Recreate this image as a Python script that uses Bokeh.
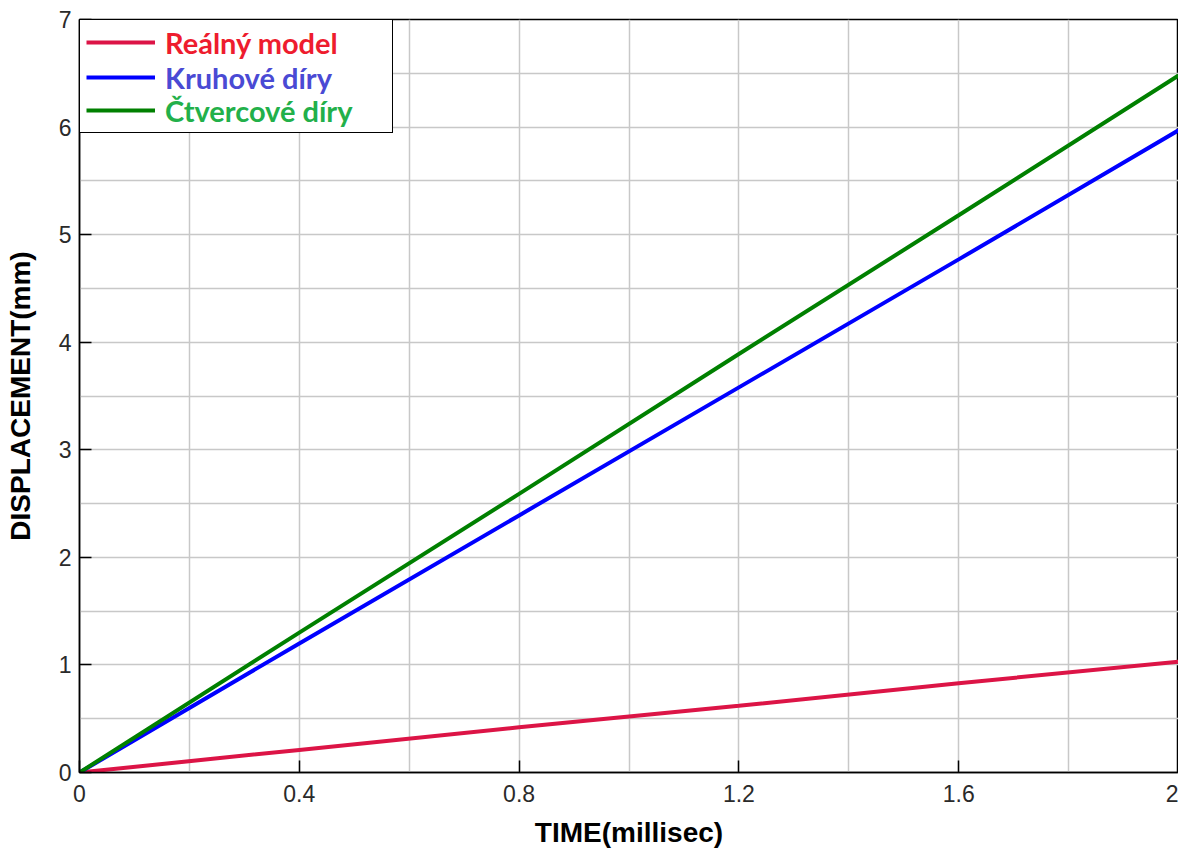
from bokeh.plotting import figure
from bokeh.models import (Range1d, FixedTicker, Legend, LegendItem,
                          CustomJSTickFormatter)
from bokeh.embed import file_html
from bokeh.resources import INLINE

# ---- data ----
time_ms = [0.0, 0.4, 0.8, 1.2, 1.6, 2.0]
realny_model = [0.0, 0.21, 0.42, 0.62, 0.83, 1.03]
kruhove_diry = [0.0, 1.20, 2.39, 3.58, 4.77, 5.97]
ctvercove_diry = [0.0, 1.30, 2.59, 3.89, 5.18, 6.48]

series_names = ["Reálný model", "Kruhové díry", "Čtvercové díry"]
line_colors = ["#dc1446", "#0000ff", "#008000"]
text_colors = ["#ee1c2e", "#4a4ad4", "#22b04a"]

x_ticks = [0, 0.4, 0.8, 1.2, 1.6, 2.0]
x_grid = [0, 0.2, 0.4, 0.6, 0.8, 1.0, 1.2, 1.4, 1.6, 1.8, 2.0]
y_ticks = [0, 1, 2, 3, 4, 5, 6, 7]
y_grid = [0, 0.5, 1, 1.5, 2, 2.5, 3, 3.5, 4, 4.5, 5, 5.5, 6, 6.5, 7]
x_min, x_max = 0, 2
y_min, y_max = 0, 7

W, H = 1178, 850
BL, BR, BT, BB = 79, 0, 19, 75
p = figure(width=W, height=H, output_backend="svg", toolbar_location=None,
           x_range=Range1d(x_min, x_max), y_range=Range1d(y_min, y_max),
           min_border_left=BL, min_border_right=BR, min_border_top=BT,
           min_border_bottom=BB)
p.background_fill_color = "white"
p.border_fill_color = "white"
p.outline_line_color = "black"
p.outline_line_width = 1.5
p.outline_line_alpha = 1

# grid
p.xgrid.ticker = FixedTicker(ticks=x_grid)
p.ygrid.ticker = FixedTicker(ticks=y_grid)
for g in (p.xgrid, p.ygrid):
    g.grid_line_color = "#c8c8c8"
    g.grid_line_width = 1.5
    g.grid_line_alpha = 1

# axes
p.xaxis.ticker = FixedTicker(ticks=x_ticks, minor_ticks=[])
p.yaxis.ticker = FixedTicker(ticks=y_ticks, minor_ticks=[])
p.xaxis.formatter = CustomJSTickFormatter(code="return Number(tick.toFixed(2)).toString();")
p.yaxis.formatter = CustomJSTickFormatter(code="return Number(tick.toFixed(2)).toString();")
for ax in (p.xaxis, p.yaxis):
    ax.axis_line_color = "black"
    ax.axis_line_width = 1.5
    ax.major_tick_in = 12
    ax.major_tick_out = 0
    ax.major_tick_line_color = "black"
    ax.major_tick_line_width = 1.5
    ax.minor_tick_line_color = None
    ax.major_label_text_font = "Liberation Sans"
    ax.major_label_text_font_size = "23px"
    ax.major_label_text_color = "#2a2a2a"
    ax.axis_label_text_font = "Liberation Sans"
    ax.axis_label_text_font_style = "bold"
    ax.axis_label_text_font_size = "28px"
    ax.axis_label_text_color = "black"

p.xaxis.axis_label = "TIME(millisec)"
p.yaxis.axis_label = "DISPLACEMENT(mm)"
p.xaxis.major_label_standoff = 12
p.xaxis.axis_label_standoff = 12
p.yaxis.major_label_standoff = 8
p.yaxis.axis_label_standoff = 20

# lines
renderers = []
for ys, c in zip([realny_model, kruhove_diry, ctvercove_diry], line_colors):
    r = p.line(time_ms, ys, line_color=c, line_width=4)
    renderers.append(r)

# legend box only (zero-width glyphs, no label text): white background + border
items = [LegendItem(label="", renderers=[r]) for r in renderers]
box = Legend(items=items, location="top_left", margin=0, padding=7,
             spacing=4, glyph_width=0, glyph_height=30, label_height=30,
             label_width=288, label_standoff=10,
             label_text_alpha=0, label_text_font_size="14px",
             border_line_color="black", border_line_width=1.5, border_line_alpha=1,
             background_fill_color="white", background_fill_alpha=1)
p.add_layout(box, "center")

# one borderless legend per entry, so each label gets its own colour
frame_h = H - BT - BB
item_centers = [26, 61, 94]
half = 18
for n, r, tc, yc in zip(series_names, renderers, text_colors, item_centers):
    lg = Legend(items=[LegendItem(label=n, renderers=[r])],
                location=(7, frame_h - yc - half), margin=0, padding=0,
                glyph_width=69, glyph_height=2 * half, label_height=2 * half,
                label_standoff=10,
                label_text_color=tc, label_text_font="Lato",
                label_text_font_style="bold", label_text_font_size="29px",
                border_line_color=None, background_fill_alpha=0)
    p.add_layout(lg, "center")

open("out.html", "w").write(file_html(p, INLINE))
